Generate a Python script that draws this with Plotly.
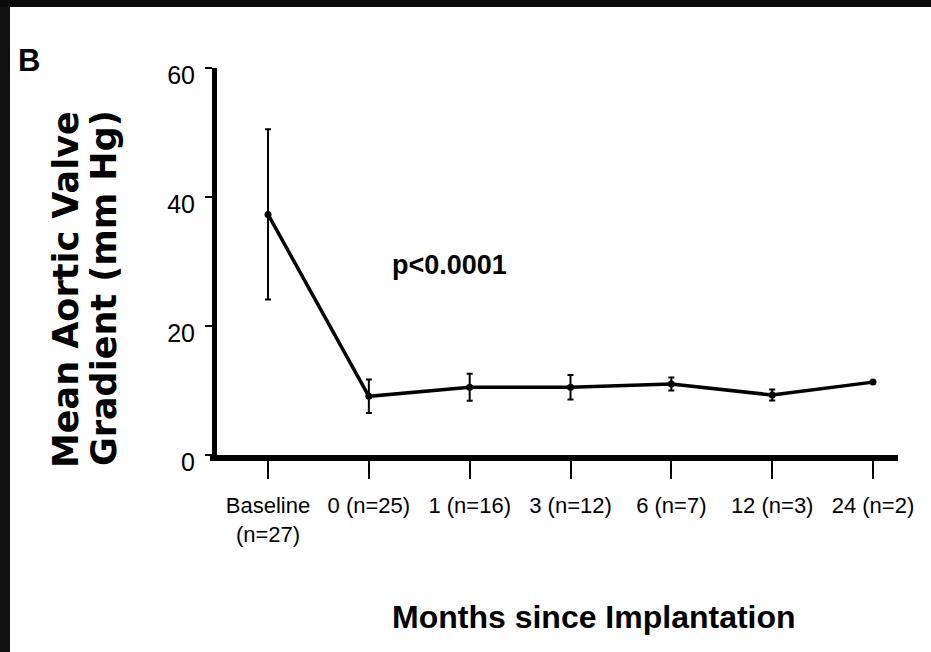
import plotly.graph_objects as go

# ---- data ----
categories = ["Baseline<br>(n=27)", "0 (n=25)", "1 (n=16)", "3 (n=12)",
              "6 (n=7)", "12 (n=3)", "24 (n=2)"]
mean_gradient = [37.3, 9.1, 10.5, 10.5, 11.0, 9.3, 11.3]
error_sd = [13.2, 2.6, 2.1, 1.9, 1.0, 0.85, 0.0]
y_ticks = [0, 20, 40, 60]

# ---- layout geometry (pixels) ----
W, H = 931, 652
L, R, T, B = 217, 33, 68, 197
PW, PH = W - L - R, H - T - B

def px(x):
    return (x - L) / PW

def py(y):
    return (H - B - y) / PH

SANS = "Liberation Sans, Arial, Helvetica, sans-serif"

fig = go.Figure()
fig.add_trace(go.Scatter(
    x=categories, y=mean_gradient,
    mode="lines+markers",
    line=dict(color="black", width=3.5),
    marker=dict(color="black", size=7),
    error_y=dict(type="data", array=error_sd, visible=True,
                 color="black", thickness=2, width=3),
    showlegend=False, hoverinfo="skip",
))

fig.update_layout(
    width=W, height=H,
    margin=dict(l=L, r=R, t=T, b=B, pad=0),
    paper_bgcolor="white", plot_bgcolor="white",
    xaxis=dict(
        type="category", range=[-0.506, 6.248],
        showline=True, linecolor="black", linewidth=6,
        ticks="outside", ticklen=18, tickwidth=2, tickcolor="black",
        ticklabelstandoff=8,
        tickfont=dict(family=SANS, size=22, color="black"),
        showgrid=False, zeroline=False, fixedrange=True,
    ),
    yaxis=dict(
        range=[0, 60], tickvals=y_ticks,
        showline=True, linecolor="black", linewidth=5,
        ticks="outside", ticklen=7, tickwidth=2, tickcolor="black",
        ticklabelshift=7, ticklabelstandoff=5,
        tickfont=dict(family=SANS, size=25, color="black"),
        showgrid=False, zeroline=False, fixedrange=True,
    ),
    shapes=[
        dict(type="rect", xref="paper", yref="paper",
             x0=px(0), x1=px(10), y0=py(H), y1=py(0),
             fillcolor="#111111", line=dict(width=0), layer="above"),
        dict(type="rect", xref="paper", yref="paper",
             x0=px(0), x1=px(W), y0=py(7), y1=py(0),
             fillcolor="#0a0a0a", line=dict(width=0), layer="above"),
        # small extension of the x-axis line to the left of the y-axis
        dict(type="line", xref="paper", yref="paper",
             x0=px(210), x1=px(218), y0=py(458), y1=py(458),
             line=dict(color="black", width=6), layer="above"),
    ],
    annotations=[
        dict(text="<b>B</b>", xref="paper", yref="paper", x=px(29), y=py(60),
             xanchor="center", yanchor="middle", showarrow=False,
             font=dict(family=SANS, size=31, color="black")),
        dict(text="<b>p<0.0001</b>", xref="paper", yref="paper", x=px(449), y=py(265),
             xanchor="center", yanchor="middle", showarrow=False,
             font=dict(family=SANS, size=27, color="black")),
        dict(text="<b>Months since Implantation</b>", xref="paper", yref="paper",
             x=px(594), y=py(617), xanchor="center", yanchor="middle", showarrow=False,
             font=dict(family=SANS, size=32, color="black")),
        dict(text="<b>Mean Aortic Valve</b>", xref="paper", yref="paper",
             x=px(66), y=py(290), xanchor="center", yanchor="middle", showarrow=False,
             textangle=-90,
             font=dict(family="DejaVu Sans, sans-serif", size=35, color="black")),
        dict(text="<b>Gradient (mm Hg)</b>", xref="paper", yref="paper",
             x=px(104), y=py(288), xanchor="center", yanchor="middle", showarrow=False,
             textangle=-90,
             font=dict(family="DejaVu Sans, sans-serif", size=35, color="black")),
    ],
)

fig.write_html("out.html", config={"displayModeBar": False},
               post_script="document.body.style.margin='0';document.body.style.overflow='hidden';")
